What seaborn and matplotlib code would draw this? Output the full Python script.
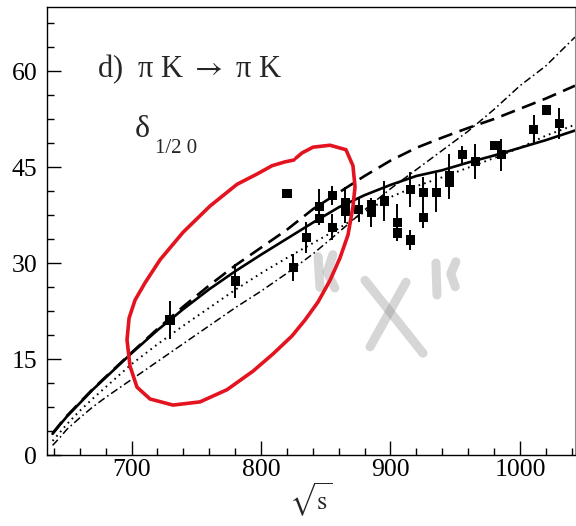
import matplotlib
matplotlib.use("Agg")
import matplotlib.pyplot as plt
import seaborn as sns
from matplotlib.ticker import MultipleLocator, FixedLocator

# ---- model curves: phase shift delta_{1/2,0} (degrees) vs sqrt(s) (MeV) ----
curve_sqrt_s = [639, 645, 650, 660, 670, 680, 700, 720, 740, 760, 780, 800,
                820, 840, 860, 880, 900, 920, 940, 960, 980, 1000, 1020, 1042.5]
curve_solid = [3.3, 4.8, 6.0, 8.1, 10.2, 12.1, 15.9, 19.5, 22.8, 25.9, 28.7, 31.3,
               33.8, 36.3, 38.7, 40.6, 42.2, 43.6, 44.5, 45.7, 46.8, 48.0, 49.2, 50.7]
curve_dashed = [3.4, 4.9, 6.1, 8.2, 10.3, 12.2, 16.0, 19.7, 23.2, 26.5, 29.6, 32.4,
                35.2, 38.4, 41.0, 43.6, 46.0, 48.0, 49.6, 51.1, 52.5, 54.1, 55.7, 57.7]
curve_dotted = [2.2, 3.6, 4.8, 6.9, 8.8, 10.6, 14.2, 17.3, 20.2, 23.0, 25.8, 28.4,
                30.8, 33.1, 35.4, 38.0, 40.3, 42.0, 43.4, 44.9, 46.4, 48.0, 49.9, 51.6]
curve_dashdot = [1.5, 2.8, 4.0, 5.8, 7.5, 9.0, 11.8, 14.6, 17.4, 20.2, 23.0, 25.6,
                 28.4, 31.4, 34.8, 38.3, 41.6, 44.6, 47.6, 50.6, 54.0, 57.7, 60.8, 65.3]

# ---- experimental points ----
data_sqrt_s = [729.7, 780.0, 820.0, 825.0, 835.0, 845.0, 845.0, 855.0, 855.0, 865.0,
               865.0, 875.5, 885.3, 885.3, 895.3, 905.4, 905.4, 915.4, 915.4, 925.3,
               925.3, 935.4, 945.4, 945.4, 955.4, 965.5, 980.7, 985.5, 1010.5, 1020.6,
               1030.3]
data_delta = [21.1, 27.2, 40.8, 29.3, 34.0, 38.8, 36.9, 40.5, 35.6, 39.4,
              38.1, 38.3, 39.1, 37.9, 39.7, 36.3, 34.7, 33.6, 41.5, 41.0,
              37.1, 41.0, 43.6, 42.6, 46.9, 45.9, 48.4, 46.9, 50.9, 53.9,
              51.8]
data_err = [2.9, 2.7, 0.6, 2.1, 2.4, 2.7, 1.0, 1.5, 2.0, 2.5,
            1.9, 1.9, 1.0, 2.2, 3.1, 2.9, 1.3, 1.6, 2.7, 2.5,
            1.7, 3.0, 3.4, 2.6, 1.4, 2.7, 0.5, 2.5, 2.2, 0.5,
            2.35]

# ---- hand-drawn red loop and grey scribbles (data units) ----
loop_x = [827.0, 831.7, 840.2, 853.3, 865.6, 871.0, 872.6, 871.0, 867.2, 861.0,
          853.3, 844.0, 834.0, 823.9, 809.3, 793.8, 773.7, 752.9, 732.0, 714.3,
          704.2, 698.8, 696.5, 698.1, 702.7, 710.4, 722.0, 739.8, 760.6, 781.5,
          796.9, 808.5, 818.5, 825.5]
loop_y = [46.4, 47.2, 48.1, 48.4, 47.7, 45.2, 41.9, 38.8, 34.4, 30.8,
          27.3, 23.9, 21.1, 18.6, 15.8, 13.1, 10.2, 8.3, 7.8, 8.75,
          10.6, 13.9, 18.0, 21.4, 24.2, 26.9, 30.5, 34.8, 38.9, 42.3,
          43.9, 45.2, 45.8, 46.1]
scribbles = [
    ([844.1, 845.5], [31.0, 26.2]),
    ([855.5, 851.0, 857.0], [31.3, 28.6, 26.1]),
    ([880.3, 925.1], [27.3, 15.9]),
    ([912.0, 884.2], [27.0, 16.9]),
    ([935.1, 935.9], [30.0, 25.0]),
    ([950.5, 946.5, 950.0], [30.2, 28.3, 26.3]),
]

sns.set_style("ticks")
plt.rcParams["font.family"] = ["Liberation Serif", "DejaVu Serif"]
plt.rcParams["mathtext.fontset"] = "stix"
plt.rcParams["lines.scale_dashes"] = False

fig = plt.figure(figsize=(5.76, 5.26), dpi=100)
ax = fig.add_axes([47 / 576, 1 - 455 / 526, 528 / 576, 448 / 526])

# model curves
sns.lineplot(x=curve_sqrt_s, y=curve_solid, ax=ax, color="black", lw=1.9,
             sort=False, estimator=None)
sns.lineplot(x=curve_sqrt_s, y=curve_dashed, ax=ax, color="black", lw=1.9,
             sort=False, estimator=None)
ax.lines[-1].set_dashes([10.5, 5.5])
sns.lineplot(x=curve_sqrt_s, y=curve_dotted, ax=ax, color="black", lw=1.4,
             sort=False, estimator=None)
ax.lines[-1].set_dashes([1.2, 3.0])
sns.lineplot(x=curve_sqrt_s, y=curve_dashdot, ax=ax, color="black", lw=1.1,
             sort=False, estimator=None)
ax.lines[-1].set_dashes([5.5, 2.3, 1.2, 2.3])

# experimental data
ax.errorbar(data_sqrt_s, data_delta, yerr=data_err, fmt="none",
            ecolor="black", elinewidth=1.4, capsize=0, zorder=3)
sns.scatterplot(x=data_sqrt_s, y=data_delta, ax=ax, marker="s", s=44,
                color="black", edgecolor="none", zorder=4)

# grey scribbles and red hand-drawn loop
for sx, sy in scribbles:
    ax.plot(sx, sy, color="#8c8c8c", alpha=0.35, lw=6.5,
            solid_capstyle="round", solid_joinstyle="round", zorder=2)
ax.plot(loop_x, loop_y, color="#e3141f", lw=2.6, solid_capstyle="round",
        solid_joinstyle="round", zorder=5)

# axes
ax.set_xlim(634.7, 1042.5)
ax.set_ylim(0, 70)
ax.xaxis.set_major_locator(FixedLocator([700, 800, 900, 1000]))
ax.xaxis.set_minor_locator(MultipleLocator(20))
ax.yaxis.set_major_locator(FixedLocator([0, 15, 30, 45, 60]))
ax.yaxis.set_minor_locator(MultipleLocator(3.75))
ax.tick_params(which="both", direction="in", top=False, right=False,
               width=1.0, colors="black", labelsize=18.5)
ax.tick_params(which="major", length=10)
ax.tick_params(axis="y", which="major", pad=7)
ax.tick_params(axis="x", which="major", pad=3)
ax.tick_params(which="minor", length=5)
for side in ["left", "bottom", "top"]:
    ax.spines[side].set_linewidth(1.0)
    ax.spines[side].set_color("black")
ax.spines["right"].set_linewidth(0.8)
ax.spines["right"].set_color("#8a8a8a")

ax.set_xlabel(r"$\sqrt{\mathrm{s}}$", fontsize=19, labelpad=0)
ax.set_ylabel("")

# panel annotations
ax.text(0.0947, 0.844, "d)  \u03c0 K $\\rightarrow$ \u03c0 K", transform=ax.transAxes,
        fontsize=22, ha="left", va="baseline")
ax.text(0.1667, 0.7105, "\u03b4", transform=ax.transAxes,
        fontsize=23, ha="left", va="baseline")
ax.text(0.2045, 0.675, "1/2 0", transform=ax.transAxes,
        fontsize=15, ha="left", va="baseline")

fig.savefig("out.png", dpi=100)
